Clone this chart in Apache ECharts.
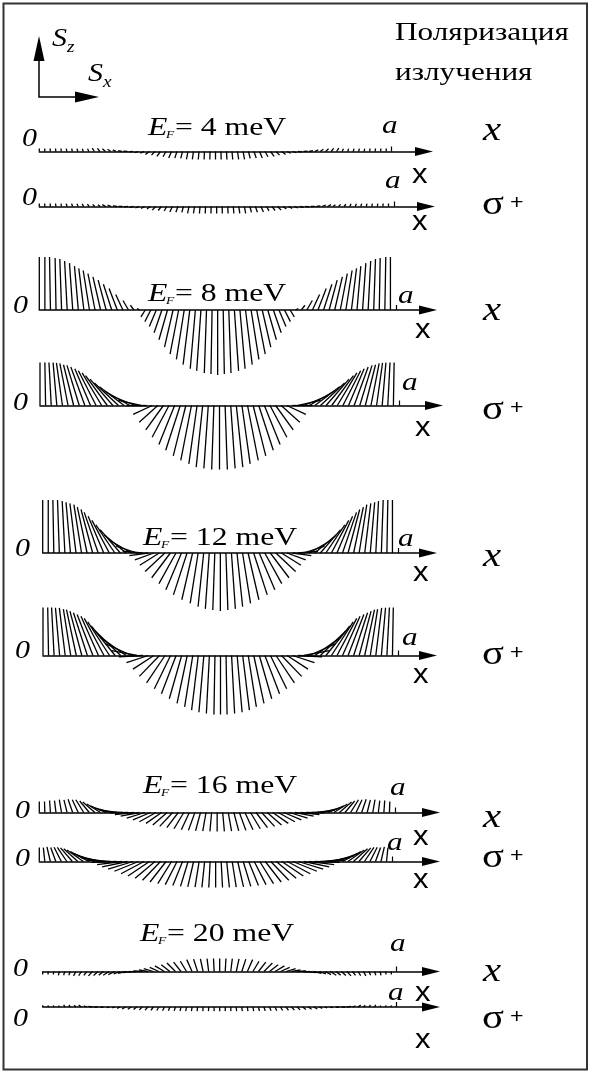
<!DOCTYPE html>
<html>
<head>
<meta charset="utf-8">
<script src="https://cdn.jsdelivr.net/npm/echarts@6/dist/echarts.min.js"></script>
<style>
  html, body { margin: 0; padding: 0; background: #fff; }
  #chart { width: 590px; height: 1073px; }
</style>
</head>
<body>
<div id="chart"></div>
<script>
// Spin texture S = (Sx, Sz) sampled at 64 equally spaced points across the well (0 .. a).
// For every Fermi energy and light polarization: tilt angle in the (Sx, Sz) plane
// (degrees, 90 = +Sz, 180 = -Sx) and the spin magnitude (arbitrary units).

const fermiEnergies = [4, 8, 12, 16, 20];           // meV
const polarizationLabels = ['x', 'σ'];              // σ is drawn with a "+" superscript

const thetaEF4x = [90,91,93,95,97,100,103,107,111,116,122,129,137,146,156,166,176,186,196,206,216,226,234,241,247,252,256,259,262,265,267,269,270,
  271,273,275,278,281,284,288,293,299,306,314,324,334,344,354,4,14,24,34,43,51,58,64,69,73,77,80,83,85,87,89];
const magEF4x = [3,3,3,3,3,3,3,3,3,3,4,4,4,4,4,4,4,4,4,4,5,5,6,6,7,7,7,8,8,8,8,8,8,
  8,8,8,8,8,7,7,7,6,6,5,5,4,4,4,4,4,4,4,4,4,4,3,3,3,3,3,3,3,3,3];

const thetaEF4s = [90,92,94,97,100,104,108,113,119,126,134,143,152,161,170,178,186,194,202,210,218,226,233,240,246,251,255,259,262,265,267,269,270,
  271,273,275,278,281,285,289,294,300,307,314,322,330,338,346,354,2,10,19,28,37,46,54,61,67,72,76,80,83,86,88];
const magEF4s = [3,3,3,3,3,3,3,3,3,3,3,3,4,4,4,4,4,4,4,4,4,5,5,5,6,6,6,7,7,7,7,7,7,
  7,7,7,7,7,6,6,6,5,5,5,4,4,4,4,4,4,4,4,4,3,3,3,3,3,3,3,3,3,3,3];

const thetaEF8x = [90,90,91,91,92,93,94,95,97,99,101,103,105,108,111,115,120,128,150,238,243,247,251,254,257,259,261,263,265,266,268,269,270,
  271,272,274,275,277,279,281,283,286,289,293,297,302,30,52,60,65,69,72,75,77,79,81,83,85,86,87,88,89,89,90];
const magEF8x = [53,53,53,52,51,49,47,44,42,40,37,34,31,27,23,17,11,6,3,8,13,18,24,31,38,45,50,55,59,61,63,64,65,
  64,63,61,59,55,50,45,38,31,24,18,13,8,3,6,11,17,23,27,31,34,37,40,42,44,47,49,51,52,53,53];

const thetaEF8s = [90,91,93,95,98,101,104,107,110,113,117,121,126,131,137,143,150,158,167,180,205,222,234,242,248,252,256,259,262,264,266,268,270,
  272,274,276,278,281,284,288,292,298,306,318,335,0,13,22,30,37,43,49,54,59,63,67,70,73,76,79,82,85,87,89];
const magEF8s = [43,43,43,43,43,43,42,42,41,40,39,38,37,35,33,31,29,26,23,20,21,25,30,36,42,47,52,56,59,62,63,64,64,
  64,63,62,59,56,52,47,42,36,30,25,21,20,23,26,29,31,33,35,37,38,39,40,41,42,42,43,43,43,43,43];

const thetaEF12x = [90,90,91,92,93,95,97,99,102,105,109,113,118,124,131,140,150,162,175,188,200,212,223,233,241,247,252,257,261,264,266,268,270,
  272,274,276,279,283,288,293,299,307,317,328,340,352,5,18,30,40,49,56,62,67,71,75,78,81,83,85,87,88,89,90];
const magEF12x = [53,53,53,53,52,51,50,49,47,45,43,40,37,34,31,28,25,22,20,19,20,23,27,31,35,40,44,48,51,54,56,57,58,
  57,56,54,51,48,44,40,35,31,27,23,20,19,20,22,25,28,31,34,37,40,43,45,47,49,50,51,52,53,53,53];

const thetaEF12s = [90,91,93,95,97,99,102,105,108,111,114,118,123,129,136,145,156,169,183,198,213,226,236,244,249,254,258,261,263,265,267,269,270,
  271,273,275,277,279,282,286,291,296,304,314,327,342,357,11,24,35,44,51,57,62,66,69,72,75,78,81,83,85,87,89];
const magEF12s = [48,48,48,48,48,47,47,46,45,44,43,42,40,38,35,32,29,26,24,23,25,29,33,37,41,45,49,52,55,57,58,59,59,
  59,58,57,55,52,49,45,41,37,33,29,25,23,24,26,29,32,35,38,40,42,43,44,45,46,47,47,48,48,48,48];

const thetaEF16x = [90,92,94,97,100,104,109,115,122,130,139,148,157,165,172,177,181,186,191,197,203,209,215,221,227,233,239,245,250,255,260,265,270,
  275,280,285,290,295,301,307,313,319,325,331,337,343,349,354,359,3,8,15,23,32,41,50,58,65,71,76,80,83,86,88];
const magEF16x = [11,11,12,12,13,13,14,14,15,15,16,16,17,17,18,18,18,19,19,19,19,19,19,19,19,19,19,19,19,19,19,19,19,
  19,19,19,19,19,19,19,19,19,19,19,19,19,19,19,18,18,18,17,17,16,16,15,15,14,14,13,13,12,12,11];

const thetaEF16s = [90,96,103,110,117,124,131,138,145,152,159,166,172,177,182,187,192,197,202,208,214,220,226,232,238,243,248,253,257,261,264,267,270,
  273,276,279,283,287,292,297,302,308,314,320,326,332,338,343,348,353,358,3,8,14,21,28,35,42,49,56,63,70,77,84];
const magEF16s = [14,14,15,15,16,17,18,19,20,21,22,23,24,25,25,25,26,26,26,26,26,26,26,26,26,26,26,26,26,26,26,26,26,
  26,26,26,26,26,26,26,26,26,26,26,26,26,26,26,26,25,25,25,24,23,22,21,20,19,18,17,16,15,15,14];

const thetaEF20x = [270,266,262,257,252,247,242,237,232,227,222,217,212,206,200,194,188,182,176,170,163,156,149,142,135,128,121,114,108,102,97,93,90,
  87,83,78,72,66,59,52,45,38,31,24,17,10,4,358,352,346,340,334,328,323,318,313,308,303,298,293,288,283,278,274];
const magEF20x = [3,3,3,4,4,4,5,5,5,6,6,6,7,7,7,8,8,8,9,9,10,10,11,11,12,12,12,13,13,13,13,13,13,
  13,13,13,13,13,12,12,12,11,11,10,10,9,9,8,8,8,7,7,7,6,6,6,5,5,5,4,4,4,3,3];

const thetaEF20s = [90,95,101,108,116,125,135,146,158,170,180,188,194,199,204,209,214,219,224,229,234,239,244,248,252,256,259,262,264,266,268,269,270,
  271,272,274,276,278,281,284,288,292,296,301,306,311,316,321,326,331,336,341,346,352,0,10,22,34,45,55,64,72,79,85];
const magEF20s = [2,2,2,2,3,3,3,4,4,5,5,4,3,3,4,5,5,5,5,5,5,5,5,5,5,5,5,5,5,5,5,5,5,
  5,5,5,5,5,5,5,5,5,5,5,5,5,5,5,5,5,4,3,3,4,5,5,4,4,3,3,3,2,2,2];

// sample positions along x, in units of the well width a
const samplePositions = Array.from({ length: 64 }, (_, i) => i / 64);

const panels = [
  { theta: thetaEF4x,  mag: magEF4x  }, { theta: thetaEF4s,  mag: magEF4s  },
  { theta: thetaEF8x,  mag: magEF8x  }, { theta: thetaEF8s,  mag: magEF8s  },
  { theta: thetaEF12x, mag: magEF12x }, { theta: thetaEF12s, mag: magEF12s },
  { theta: thetaEF16x, mag: magEF16x }, { theta: thetaEF16s, mag: magEF16s },
  { theta: thetaEF20x, mag: magEF20x }, { theta: thetaEF20s, mag: magEF20s }
];

// page layout of each strip: baseline, x = 0, x = a, arrow tip (px)
const layout = [
  { axisY: 151.5, left: 39.3, aPx: 391.7, tip: 433 },
  { axisY: 206.5, left: 39.3, aPx: 394,   tip: 435 },
  { axisY: 310,   left: 39.3, aPx: 396,   tip: 437 },
  { axisY: 405.5, left: 40,   aPx: 399,   tip: 443 },
  { axisY: 553,   left: 42.7, aPx: 398,   tip: 437 },
  { axisY: 655.5, left: 43,   aPx: 398,   tip: 437 },
  { axisY: 812.5, left: 39.3, aPx: 395,   tip: 440 },
  { axisY: 861.5, left: 39.3, aPx: 392,   tip: 440 },
  { axisY: 971.5, left: 42.7, aPx: 396.7, tip: 440 },
  { axisY: 1021,  left: 42.7, aPx: 396.7, tip: 440 }
];
const HALF = 80;          // spin units above/below each strip's axis
const ARROW_LEN = 18;

const grids = [], xAxes = [], yAxes = [], series = [];
panels.forEach((p, r) => {
  const L = layout[r];
  const end = L.tip - ARROW_LEN / 2;
  grids.push({ left: L.left, top: L.axisY - HALF, width: end - L.left, height: 2 * HALF });
  xAxes.push({
    gridIndex: r, type: 'value', min: 0, max: (end - L.left) / (L.aPx - L.left),
    axisLine: { show: true, onZero: true, symbol: ['none', 'triangle'], symbolSize: [9, ARROW_LEN],
      lineStyle: { color: '#000', width: 1.5 } },
    axisTick: { show: true, customValues: [1], inside: true, length: 5, lineStyle: { color: '#000', width: 1.2 } },
    axisLabel: { show: false }, splitLine: { show: false }
  });
  yAxes.push({ gridIndex: r, type: 'value', min: -HALF, max: HALF, show: false });
  series.push({
    type: 'custom', xAxisIndex: r, yAxisIndex: r, silent: true,
    data: samplePositions.map((x, i) => [x, p.theta[i], p.mag[i]]),
    renderItem: function (params, api) {
      const base = api.coord([api.value(0), 0]);
      const k = api.size([0, 1])[1];
      const t = api.value(1) * Math.PI / 180;
      const m = api.value(2) * k;
      return {
        type: 'line',
        shape: { x1: base[0], y1: base[1], x2: base[0] + m * Math.cos(t), y2: base[1] - m * Math.sin(t) },
        style: { stroke: '#000', lineWidth: 1.3 }
      };
    }
  });
});

const SERIF = '"Liberation Serif","Times New Roman",serif';
const SANS = '"Liberation Sans",Arial,sans-serif';
function label(text, x, baseline, size, family, fontStyle, sx) {
  return {
    type: 'text', x: x, y: baseline - 0.34 * size, scaleX: sx || 1.2, silent: true,
    style: { text: text, fontSize: size, fontFamily: family, fontStyle: fontStyle || 'normal', fill: '#000',
      textAlign: 'left', textVerticalAlign: 'middle', align: 'left', verticalAlign: 'middle' }
  };
}

const graphics = [];
// frame
graphics.push({ type: 'rect', silent: true, shape: { x: 3.5, y: 3.5, width: 583.5, height: 1066 },
  style: { fill: null, stroke: '#333', lineWidth: 2 } });
// Sz / Sx direction key
graphics.push({ type: 'polyline', silent: true, shape: { points: [[39, 60], [39, 97], [77, 97]] },
  style: { stroke: '#000', lineWidth: 1.5, fill: null } });
graphics.push({ type: 'polygon', silent: true, shape: { points: [[39, 36], [33.5, 61], [44.5, 61]] }, style: { fill: '#000' } });
graphics.push({ type: 'polygon', silent: true, shape: { points: [[99, 97], [75, 91.5], [75, 102.5]] }, style: { fill: '#000' } });
graphics.push(label('S', 52, 48, 25, SERIF, 'italic'));
graphics.push(label('z', 67, 53, 16, SERIF, 'italic'));
graphics.push(label('S', 88, 83, 25, SERIF, 'italic'));
graphics.push(label('x', 103, 88, 16, SERIF, 'italic'));
// header
graphics.push(label('Поляризация', 395, 42, 26, SERIF));
graphics.push(label('излучения', 395, 82, 26, SERIF));

// Fermi energy titles
const titlePos = [[148, 137], [148, 303], [143, 547], [143, 795], [140, 943]];
fermiEnergies.forEach((e, j) => {
  const [tx, tb] = titlePos[j];
  graphics.push(label('E', tx, tb, 26, SERIF, 'italic', 1.22));
  graphics.push(label('F', tx + 18, tb + 1.5, 11, SERIF, 'italic', 1.22));
  graphics.push(label('= ' + e + ' meV', tx + 27, tb, 26, SERIF, 'normal', 1.22));
});

// per-strip labels: "0", "a", axis name, polarization
const zeroPos = [[22, 148], [22, 207], [13, 315], [13, 412], [15, 558], [15, 660], [15, 820], [15, 868], [13, 978], [13, 1028]];
const aPos = [[382, 135], [385, 190], [398, 305], [402, 392], [398, 548], [402, 647], [390, 797], [387, 852], [390, 953], [388, 1002]];
const xNamePos = [[412, 185], [412, 232], [415, 340], [415, 438], [413, 583], [413, 685], [413, 847], [413, 890], [415, 1003], [415, 1050]];
const polBaseline = [143, 217, 323, 422, 569, 667, 830, 870, 984, 1031];
for (let r = 0; r < panels.length; r++) {
  graphics.push(label('0', zeroPos[r][0], zeroPos[r][1], 25, SERIF, 'italic'));
  graphics.push(label('a', aPos[r][0], aPos[r][1], 26, SERIF, 'italic'));
  graphics.push(label('x', xNamePos[r][0], xNamePos[r][1], 27, SANS, 'normal', 1.15));
  const pol = polarizationLabels[r % 2];
  if (r % 2 === 0) {
    graphics.push(label(pol, 483, polBaseline[r], 34, SERIF, 'italic'));
  } else {
    graphics.push(label(pol, 482, polBaseline[r], 34, SERIF, 'normal'));
    graphics.push(label('+', 510, polBaseline[r] - 7, 21, SANS, 'normal', 1.1));
  }
}

const chart = echarts.init(document.getElementById('chart'), null, { renderer: 'canvas' });
chart.setOption({
  animation: false,
  backgroundColor: '#fff',
  grid: grids,
  xAxis: xAxes,
  yAxis: yAxes,
  series: series,
  graphic: { elements: graphics }
});
</script>
</body>
</html>
